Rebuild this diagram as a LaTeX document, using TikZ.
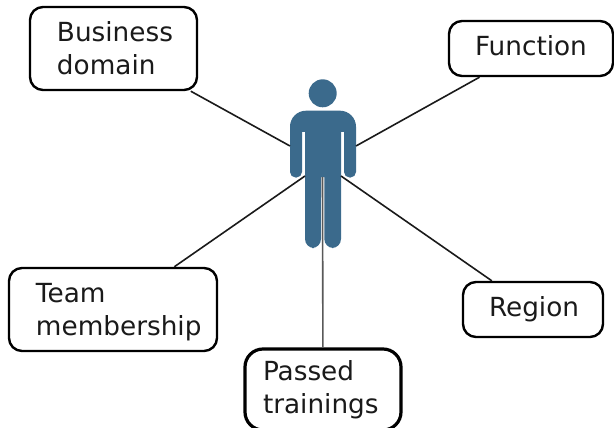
\documentclass[tikz,border=0pt]{standalone}
\usepackage{fontspec}
\setmainfont{DejaVu Sans}
\definecolor{figure}{HTML}{3B6A8C}
\definecolor{ink}{HTML}{1A1A1A}
\newcommand{\ind}[1]{\hspace*{#1pt}}
\tikzset{
  infobox/.style={draw=black,line width=2.4pt,rounded corners=13pt,fill=white,inner sep=0pt,
    align=left,text=ink,font=\fontsize{26.3}{33}\selectfont,anchor=center},
  link/.style={draw=ink,line width=1.6pt},
}
\begin{document}
\begin{tikzpicture}[x=1pt,y=-1pt]
\useasboundingbox (0,0) rectangle (614,428);
% person
\coordinate (hipL) at (305,176);
\coordinate (hipR) at (341,176);
\coordinate (armL) at (290,146);
\coordinate (armR) at (356,146);
\coordinate (crotch) at (322.5,177);
\fill[figure] (322.7,93.3) circle (14);
\fill[figure,rounded corners=16pt]
  (290,150) -- (290,110.7) -- (356,110.7) -- (356,150)
  [rounded corners=5.5pt] -- (356,177.5) -- (344,177.5)
  [sharp corners] -- (344,132) -- (341,132)
  [rounded corners=9pt] -- (341,248) -- (324.3,248)
  [sharp corners] -- (324.3,177) -- (321,177)
  [rounded corners=9pt] -- (321,248) -- (305,248)
  [sharp corners] -- (305,132) -- (302,132)
  [rounded corners=5.5pt] -- (302,177.5) -- (290,177.5) -- (290,150) -- cycle;
% boxes
\node[infobox,minimum width=167pt,minimum height=83pt,text width=167pt] (business) at (113.5,48.5) {\ind{27}Business\\\ind{27}domain};
\node[infobox,minimum width=164pt,minimum height=55pt,text width=164pt] (function) at (531,48.5) {\raisebox{6pt}{\ind{26}Function}};
\node[infobox,minimum width=208pt,minimum height=83pt,text width=208pt] (team) at (113,309.5) {\rule{0pt}{25.2pt}\ind{27}Team\\\ind{27}membership};
\node[infobox,minimum width=140pt,minimum height=55pt,text width=140pt] (region) at (533,309.5) {\ind{26}Region};
\node[infobox,line width=3.2pt,rounded corners=18pt,minimum width=156pt,minimum height=81pt,text width=156pt] (passed) at (323,389.5) {\ind{18}Passed\\\ind{18}trainings};
% connectors
\draw[link] (armL) -- (business);
\draw[link] (armR) -- (function);
\draw[link] (hipL) -- (team);
\draw[link] (hipR) -- (region);
\draw[link,draw=black!65] (crotch) -- (passed);
\end{tikzpicture}
\end{document}
